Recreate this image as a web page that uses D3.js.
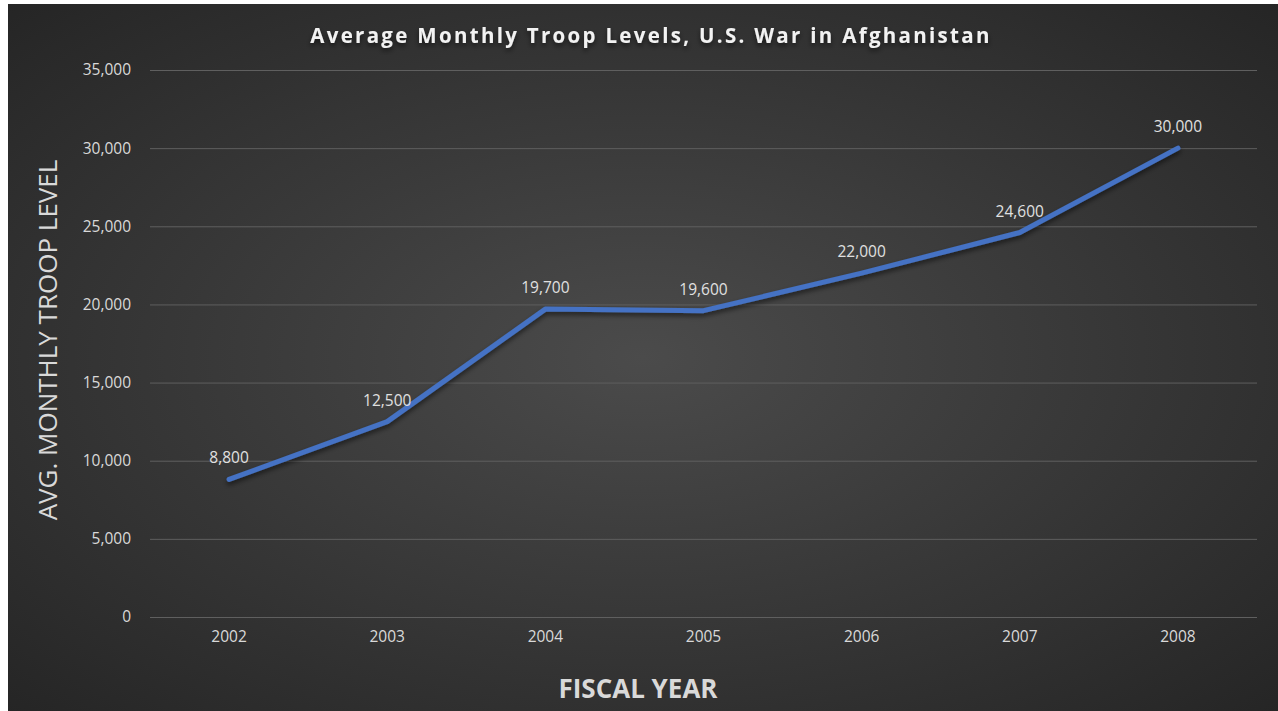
<!DOCTYPE html>
<html>
<head>
<meta charset="utf-8">
<script src="https://cdn.jsdelivr.net/npm/d3@7"></script>
<style>
  html, body { margin: 0; padding: 0; background: #fff; }
  svg { display: block; }
  text { font-family: 'Open Sans', 'Noto Sans', sans-serif; }
</style>
</head>
<body>
<svg id="chart"></svg>
<script>
const d3 = window.d3

const years = ['2002', '2003', '2004', '2005', '2006', '2007', '2008']
const troops = [8800, 12500, 19700, 19600, 22000, 24600, 30000]
const yTicks = [0, 5000, 10000, 15000, 20000, 25000, 30000, 35000]

const width = 1278
const height = 711
const margin = {top: 70, right: 20, bottom: 94, left: 150} // plot box in pixels

const svg = d3.select('#chart').attr('width', width).attr('height', height)
const defs = svg.append('defs')

const bg = defs.append('radialGradient').attr('id', 'bg')
  .attr('cx', '50%').attr('cy', '50%').attr('r', '75%')
bg.append('stop').attr('offset', '0%').attr('stop-color', '#4b4b4b')
bg.append('stop').attr('offset', '100%').attr('stop-color', '#232323')

const shadow = defs.append('filter').attr('id', 'shadow')
  .attr('x', '-10%').attr('y', '-10%').attr('width', '120%').attr('height', '130%')
shadow.append('feDropShadow').attr('dx', 0).attr('dy', 3).attr('stdDeviation', 2.5)
  .attr('flood-color', '#000').attr('flood-opacity', 0.55)

// chart area sits a little inside the page (white strip left/top in the original)
svg.append('rect').attr('x', 8).attr('y', 4).attr('width', width - 8).attr('height', height - 4)
  .attr('fill', 'url(#bg)')

const x = d3.scaleBand().domain(years).range([margin.left, width - margin.right - 1])
const y = d3.scaleLinear().domain([0, 35000]).range([height - margin.bottom, margin.top])

// gridlines
svg.append('g')
  .attr('transform', `translate(${margin.left},0)`)
  .call(d3.axisLeft(y).tickValues(yTicks).tickSize(-(x.range()[1] - margin.left)).tickFormat(''))
  .call(g => g.select('.domain').remove())
  .call(g => g.selectAll('line').attr('stroke', '#5f5f5f').attr('stroke-width', 1))

// y tick labels
svg.append('g')
  .attr('transform', `translate(${margin.left},0)`)
  .call(d3.axisLeft(y).tickValues(yTicks).tickSize(0).tickPadding(19).tickFormat(d3.format(',')))
  .call(g => g.select('.domain').remove())
  .call(g => g.selectAll('text').attr('fill', '#d9d9d9').attr('font-size', 15.5)
    .style('font-family', "'Open Sans', sans-serif"))

// x tick labels
svg.append('g')
  .attr('transform', `translate(0,${height - margin.bottom})`)
  .call(d3.axisBottom(x).tickSize(0).tickPadding(14))
  .call(g => g.select('.domain').remove())
  .call(g => g.selectAll('text').attr('fill', '#d9d9d9').attr('font-size', 15.5)
    .style('font-family', "'Open Sans', sans-serif"))

const points = years.map((yr, i) => ({yr, v: troops[i]}))
const line = d3.line().x(d => x(d.yr) + x.bandwidth() / 2).y(d => y(d.v))

svg.append('path').datum(points)
  .attr('d', line)
  .attr('fill', 'none')
  .attr('stroke', '#4472c4')
  .attr('stroke-width', 5)
  .attr('stroke-linecap', 'round')
  .attr('stroke-linejoin', 'round')
  .attr('filter', 'url(#shadow)')

svg.append('g').selectAll('text').data(points).join('text')
  .attr('x', d => x(d.yr) + x.bandwidth() / 2)
  .attr('y', d => y(d.v) - 16)
  .attr('text-anchor', 'middle')
  .attr('fill', '#e0e0e0')
  .attr('font-size', 15.5)
  .text(d => d3.format(',')(d.v))

// title
svg.append('text')
  .attr('x', 651).attr('y', 43)
  .attr('text-anchor', 'middle')
  .attr('fill', '#f2f2f2')
  .attr('font-size', 20.5)
  .attr('font-weight', 'bold')
  .attr('letter-spacing', 2.3)
  .attr('filter', 'url(#shadow)')
  .text('Average Monthly Troop Levels, U.S. War in Afghanistan')

// axis titles
svg.append('text')
  .attr('transform', 'translate(57,340) rotate(-90)')
  .attr('text-anchor', 'middle')
  .attr('fill', '#d9d9d9')
  .attr('font-size', 26)
  .text('AVG. MONTHLY TROOP LEVEL')

svg.append('text')
  .attr('x', 638).attr('y', 698)
  .attr('text-anchor', 'middle')
  .attr('fill', '#d9d9d9')
  .attr('font-size', 26)
  .attr('font-weight', 'bold')
  .text('FISCAL YEAR')
</script>
</body>
</html>
